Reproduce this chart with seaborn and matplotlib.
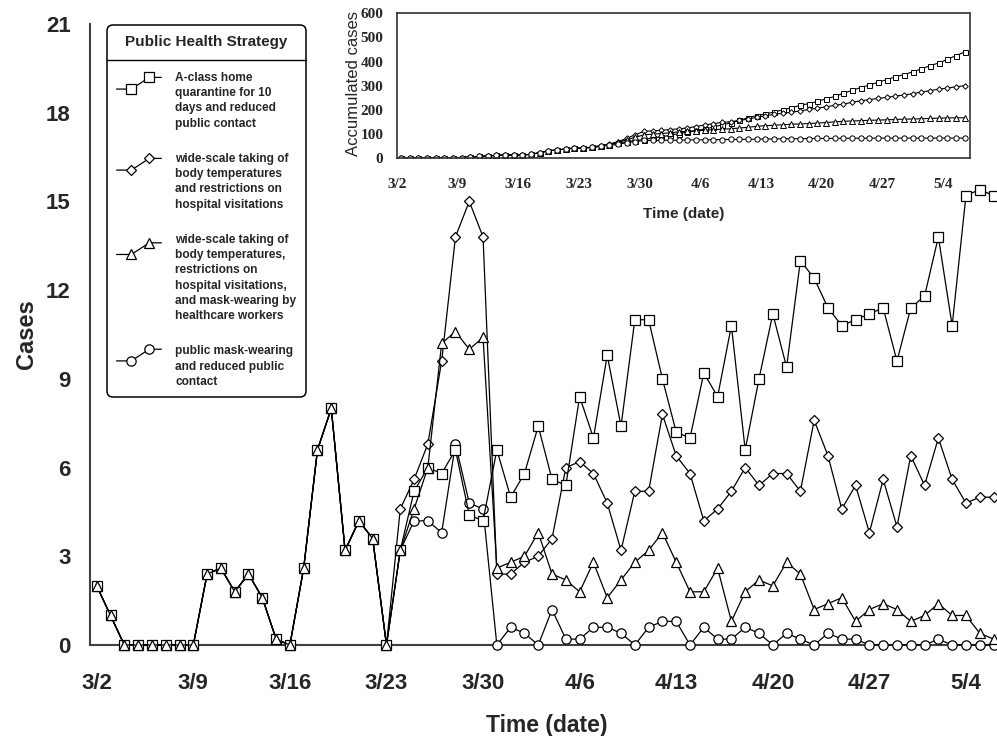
import numpy as np
import matplotlib
matplotlib.use("Agg")
import matplotlib.pyplot as plt
from matplotlib.legend_handler import HandlerBase
from matplotlib.lines import Line2D
import seaborn as sns

sns.set_style("white")
plt.rcParams['font.family'] = ['Liberation Sans', 'DejaVu Sans']

# ---- data : daily cases 3/2 (day 0) .. 5/6 (day 65) ----
day_idx = np.arange(66)
tick_days = [0, 7, 14, 21, 28, 35, 42, 49, 56, 63]
tick_labels = ['3/2', '3/9', '3/16', '3/23', '3/30', '4/6', '4/13', '4/20', '4/27', '5/4']

# all four strategies share the same values up to 3/23
early_cases = [2.0, 1.0, 0, 0, 0, 0, 0, 0, 2.4, 2.6, 1.8, 2.4, 1.6, 0.2, 0, 2.6, 6.6, 8.0,
               3.2, 4.2, 3.6, 0]

square_cases = early_cases + [3.2, 5.2, 6.0, 5.8, 6.6, 4.4, 4.2, 6.6, 5.0, 5.8, 7.4, 5.6, 5.4,
                              8.4, 7.0, 9.8, 7.4, 11.0, 11.0, 9.0, 7.2, 7.0, 9.2, 8.4, 10.8, 6.6,
                              9.0, 11.2, 9.4, 13.0, 12.4, 11.4, 10.8, 11.0, 11.2, 11.4, 9.6, 11.4,
                              11.8, 13.8, 10.8, 15.2, 15.4, 15.2]
diamond_cases = early_cases + [4.6, 5.6, 6.8, 9.6, 13.8, 15.0, 13.8, 2.4, 2.4, 2.8, 3.0, 3.6, 6.0,
                               6.2, 5.8, 4.8, 3.2, 5.2, 5.2, 7.8, 6.4, 5.8, 4.2, 4.6, 5.2, 6.0,
                               5.4, 5.8, 5.8, 5.2, 7.6, 6.4, 4.6, 5.4, 3.8, 5.6, 4.0, 6.4, 5.4,
                               7.0, 5.6, 4.8, 5.0, 5.0]
triangle_cases = early_cases + [3.2, 4.6, 6.0, 10.2, 10.6, 10.0, 10.4, 2.6, 2.8, 3.0, 3.8, 2.4,
                                2.2, 1.8, 2.8, 1.6, 2.2, 2.8, 3.2, 3.8, 2.8, 1.8, 1.8, 2.6, 0.8,
                                1.8, 2.2, 2.0, 2.8, 2.4, 1.2, 1.4, 1.6, 0.8, 1.2, 1.4, 1.2, 0.8,
                                1.0, 1.4, 1.0, 1.0, 0.4, 0.2]
circle_cases = early_cases + [3.2, 4.2, 4.2, 3.8, 6.8, 4.8, 4.6, 0, 0.6, 0.4, 0, 1.2, 0.2, 0.2,
                              0.6, 0.6, 0.4, 0, 0.6, 0.8, 0.8, 0, 0.6, 0.2, 0.2, 0.6, 0.4, 0,
                              0.4, 0.2, 0, 0.4, 0.2, 0.2, 0, 0, 0, 0, 0, 0.2, 0, 0, 0, 0]

strategy_labels = [
    "A-class home\nquarantine for 10\ndays and reduced\npublic contact",
    "wide-scale taking of\nbody temperatures\nand restrictions on\nhospital visitations",
    "wide-scale taking of\nbody temperatures,\nrestrictions on\nhospital visitations,\n"
    "and mask-wearing by\nhealthcare workers",
    "public mask-wearing\nand reduced public\ncontact",
]

LEG_FS = 8.6
LEG_LINESPACING = 1.36


class ZigzagHandler(HandlerBase):
    """legend glyph: -[]/[]-  (low marker, diagonal, high marker)"""
    def __init__(self, n_lines, **kw):
        super().__init__(**kw)
        self.n_lines = n_lines

    def create_artists(self, legend, orig_handle, xdescent, ydescent, width, height,
                       fontsize, trans):
        pitch = LEG_LINESPACING * 0.73 * fontsize
        mid = (height - ydescent) / 2 + (self.n_lines - 1) / 2 * pitch
        x0 = -xdescent
        xs = [x0, x0 + 0.33 * width, x0 + 0.73 * width, x0 + width]
        ys = [mid - 4.2, mid - 4.2, mid + 4.2, mid + 4.2]
        ln = Line2D(xs, ys, color='black', linewidth=0.9,
                    marker=orig_handle.get_marker(),
                    markersize=orig_handle.get_markersize(),
                    markerfacecolor='white', markeredgecolor='black',
                    markeredgewidth=0.9, markevery=[1, 2])
        ln.set_transform(trans)
        return [ln]


fig = plt.figure(figsize=(9.97, 7.36), dpi=100)
ax = fig.add_axes([0.0901, 0.1236, 0.9099, 0.8438])

series = [
    (diamond_cases, 'D', 5.2, 2),
    (circle_cases, 'o', 6.7, 3),
    (square_cases, 's', 6.5, 4),
    (triangle_cases, '^', 7.2, 5),
]
for vals, mk, ms, z in series:
    sns.lineplot(x=day_idx, y=vals, ax=ax, color='black', linewidth=0.9,
                 marker=mk, markersize=ms, markerfacecolor='white',
                 markeredgecolor='black', markeredgewidth=0.9, zorder=z, clip_on=False)

ax.set_xlim(-0.5, 65.25)
ax.set_ylim(0, 21)
ax.set_yticks(range(0, 22, 3))
ax.set_xticks(tick_days)
ax.set_xticklabels(tick_labels)
ax.set_xticks(np.arange(-0.5, 65, 7), minor=True)
ax.tick_params(axis='x', which='major', length=0, pad=20, labelsize=16)
ax.tick_params(axis='x', which='minor', length=5.8, width=1.2, color='#404040', direction='out')
ax.tick_params(axis='y', length=5.8, width=1.2, color='#404040', direction='out', pad=8,
               labelsize=16)
for lbl in ax.get_xticklabels() + ax.get_yticklabels():
    lbl.set_fontweight('bold')
sns.despine(ax=ax)
for sp in ['left', 'bottom']:
    ax.spines[sp].set_color('#404040')
    ax.spines[sp].set_linewidth(1.5)

ax.set_xlabel('Time (date)', fontsize=16.5, fontweight='bold')
ax.xaxis.set_label_coords(0.504, -0.111)
ax.set_ylabel('Cases', fontsize=17, fontweight='bold')
ax.yaxis.set_label_coords(-0.057, 0.5)

# legend
handles = ax.lines[:4]
order = [2, 0, 3, 1]  # square, diamond, triangle, circle
leg_handles = [handles[i] for i in order]
hmap = {h: ZigzagHandler(lab.count('\n') + 1) for h, lab in zip(leg_handles, strategy_labels)}
leg = ax.legend(handles=leg_handles, labels=strategy_labels, title='Public Health Strategy',
                loc='upper left', bbox_to_anchor=(107 / 997, 1 - 25 / 736),
                bbox_transform=fig.transFigure, borderaxespad=0, fancybox=True,
                framealpha=1, edgecolor='black',
                prop={'weight': 'bold', 'size': LEG_FS},
                title_fontproperties={'weight': 'bold', 'size': 11},
                handlelength=3.75, handletextpad=1.15, labelspacing=1.95, borderpad=0.8,
                handler_map=hmap)
leg.get_frame().set_linewidth(1.1)
leg.get_frame().set_boxstyle('round,pad=0,rounding_size=0.5')
for t in leg.get_texts():
    t.set_linespacing(LEG_LINESPACING)

# inset: accumulated cases
ins = fig.add_axes([0.3979, 0.7849, 0.5750, 0.1970])
ins.set_facecolor('white')
inset_series = [
    (square_cases, 's', 3.6),
    (diamond_cases, 'D', 2.8),
    (triangle_cases, '^', 3.8),
    (circle_cases, 'o', 3.8),
]
for vals, mk, ms in inset_series:
    sns.lineplot(x=day_idx, y=np.cumsum(vals), ax=ins, color='black', linewidth=0.8,
                 marker=mk, markersize=ms, markerfacecolor='white',
                 markeredgecolor='black', markeredgewidth=0.7)
ins.set_xlim(-0.5, 65.6)
ins.set_ylim(0, 600)
ins.set_yticks(range(0, 601, 100))
ins.set_xticks(np.array(tick_days) - 0.5)
ins.set_xticklabels(tick_labels)
ins.tick_params(axis='both', length=3.6, width=1, color='#404040', direction='out')
ins.tick_params(axis='x', pad=10.5)
ins.tick_params(axis='y', pad=6)
for lbl in ins.get_xticklabels() + ins.get_yticklabels():
    lbl.set_fontfamily('Liberation Serif')
    lbl.set_fontweight('bold')
    lbl.set_fontsize(11)
for sp in ins.spines.values():
    sp.set_visible(True)
    sp.set_color('#333333')
    sp.set_linewidth(1.2)
ins.set_xlabel('Time (date)', fontsize=11, fontweight='bold')
ins.xaxis.set_label_coords(0.5, -0.335)
ins.set_ylabel('Accumulated cases', fontsize=12)
ins.yaxis.set_label_coords(-0.063, 0.517)

# separator line under the legend title
fig.canvas.draw()
rend = fig.canvas.get_renderer()
frame_bb = leg.get_frame().get_window_extent(rend)
title_bb = leg.get_title().get_window_extent(rend)
first_bb = leg.get_texts()[0].get_window_extent(rend)
y_sep = (title_bb.y0 + first_bb.y1) / 2
inv = fig.transFigure.inverted()
(xa, ya), (xb, yb) = inv.transform([(frame_bb.x0, y_sep), (frame_bb.x1, y_sep)])
fig.add_artist(Line2D([xa, xb], [ya, yb], color='black', linewidth=1.0))

fig.savefig('out.png', dpi=100)
